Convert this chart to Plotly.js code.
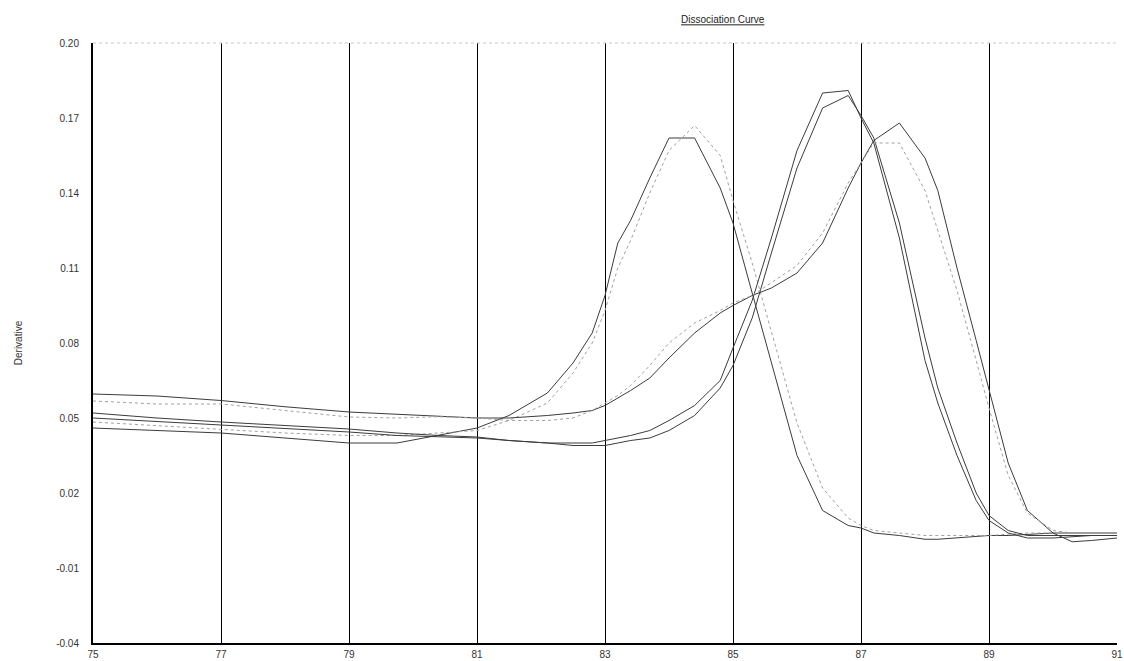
<!DOCTYPE html>
<html>
<head>
<meta charset="utf-8">
<script src="https://cdn.plot.ly/plotly-3.0.1.min.js"></script>
<style>
  html, body { margin: 0; padding: 0; background: #ffffff; }
  #chart { width: 1124px; height: 661px; }
</style>
</head>
<body>
<div id="chart"></div>
<script>
// Temperature (°C) sample points
const temps = [75, 76, 77, 78, 79, 79.75, 80.4, 81, 81.5, 82.1, 82.5, 82.8, 83.0, 83.2, 83.4, 83.7, 84.0, 84.4, 84.8, 85.0, 85.3, 85.6, 86.0, 86.4, 86.8, 87.0, 87.2, 87.6, 88.0, 88.2, 88.5, 88.8, 89.0, 89.3, 89.6, 90.0, 90.3, 90.6, 91.0];

// Derivative values per well
const wellA = [0.046, 0.045, 0.044, 0.042, 0.040, 0.040, 0.043, 0.046, 0.051, 0.060, 0.072, 0.084, 0.099, 0.120, 0.129, 0.146, 0.162, 0.162, 0.142, 0.128, 0.100, 0.072, 0.035, 0.013, 0.007, 0.006, 0.004, 0.003, 0.0015, 0.0015, 0.002, 0.0025, 0.003, 0.003, 0.0035, 0.004, 0.004, 0.004, 0.004];
const wellA2 = [0.0484, 0.047, 0.0455, 0.044, 0.043, 0.043, 0.044, 0.045, 0.049, 0.056, 0.068, 0.080, 0.093, 0.110, 0.121, 0.140, 0.157, 0.167, 0.155, 0.137, 0.112, 0.085, 0.048, 0.022, 0.010, 0.007, 0.005, 0.004, 0.003, 0.003, 0.003, 0.003, 0.003, 0.0035, 0.004, 0.004, 0.004, 0.004, 0.004];
const wellB = [0.052, 0.050, 0.0484, 0.047, 0.0456, 0.044, 0.043, 0.0424, 0.041, 0.040, 0.040, 0.040, 0.041, 0.042, 0.043, 0.045, 0.049, 0.055, 0.065, 0.078, 0.097, 0.122, 0.157, 0.180, 0.181, 0.170, 0.160, 0.122, 0.073, 0.056, 0.035, 0.017, 0.009, 0.004, 0.002, 0.002, 0.0025, 0.003, 0.003];
const wellB2 = [0.050, 0.0485, 0.047, 0.0458, 0.0444, 0.043, 0.0425, 0.042, 0.041, 0.040, 0.039, 0.039, 0.039, 0.040, 0.041, 0.042, 0.045, 0.051, 0.062, 0.071, 0.090, 0.116, 0.150, 0.174, 0.179, 0.171, 0.162, 0.128, 0.082, 0.062, 0.040, 0.020, 0.011, 0.005, 0.003, 0.003, 0.003, 0.003, 0.003];
const wellC = [0.0596, 0.0588, 0.057, 0.0545, 0.0524, 0.0515, 0.051, 0.050, 0.050, 0.051, 0.052, 0.053, 0.055, 0.058, 0.061, 0.066, 0.074, 0.084, 0.092, 0.095, 0.099, 0.102, 0.108, 0.120, 0.142, 0.152, 0.161, 0.168, 0.154, 0.141, 0.110, 0.081, 0.061, 0.032, 0.013, 0.004, 0.0005, 0.001, 0.002];
const wellC2 = [0.0568, 0.0556, 0.0556, 0.053, 0.0504, 0.050, 0.0505, 0.050, 0.049, 0.049, 0.050, 0.053, 0.056, 0.059, 0.063, 0.071, 0.080, 0.088, 0.093, 0.096, 0.099, 0.104, 0.111, 0.124, 0.144, 0.152, 0.160, 0.160, 0.141, 0.125, 0.101, 0.073, 0.054, 0.027, 0.012, 0.005, 0.004, 0.004, 0.004];

const xTicks = [75, 77, 79, 81, 83, 85, 87, 89, 91];
const yTicks = [-0.04, -0.01, 0.02, 0.05, 0.08, 0.11, 0.14, 0.17, 0.20];

const dark = {color: '#3c3c3c', width: 1};
const light = {color: '#a0a0a0', width: 1, dash: 'dot'};

const series = [
  {name: 'A', y: wellA, line: dark},
  {name: 'A2', y: wellA2, line: light},
  {name: 'B', y: wellB, line: dark},
  {name: 'B2', y: wellB2, line: dark},
  {name: 'C', y: wellC, line: dark},
  {name: 'C2', y: wellC2, line: light}
];

const traces = series.map(s => ({
  type: 'scatter', mode: 'lines', x: temps, y: s.y, name: s.name,
  line: s.line, hoverinfo: 'skip'
}));

const tickFont = {family: 'Liberation Sans, Arial, sans-serif', size: 10, color: '#333333'};

const layout = {
  width: 1124, height: 661,
  margin: {l: 93, r: 7, t: 43, b: 18, pad: 0},
  paper_bgcolor: '#ffffff', plot_bgcolor: '#ffffff',
  showlegend: false,
  title: {
    text: '<u>Dissociation Curve</u>',
    font: {family: 'Liberation Sans, Arial, sans-serif', size: 10, color: '#222222'},
    x: 0.643, xanchor: 'center', xref: 'container',
    y: 0.97, yanchor: 'middle', yref: 'container'
  },
  xaxis: {
    range: [75, 91], tickvals: xTicks, ticktext: xTicks.map(String),
    showgrid: true, gridcolor: '#000000', gridwidth: 1,
    zeroline: false, showline: true, linecolor: '#000000', linewidth: 2,
    ticks: '', tickfont: tickFont, ticklabelstandoff: 1
  },
  yaxis: {
    range: [-0.04, 0.20], tickvals: yTicks, ticktext: yTicks.map(v => v.toFixed(2)),
    showgrid: false, zeroline: false, showline: true, linecolor: '#000000', linewidth: 2,
    ticks: '', tickfont: tickFont, ticklabelstandoff: 10,
    title: {text: 'Derivative', font: {family: 'Liberation Sans, Arial, sans-serif', size: 10, color: '#333333'}, standoff: 32}
  },
  shapes: [
    {type: 'line', xref: 'paper', yref: 'paper', x0: 0, x1: 1, y0: 1, y1: 1,
     line: {color: '#c8c8c8', width: 1, dash: 'dot'}}
  ]
};

Plotly.newPlot('chart', traces, layout, {displayModeBar: false, staticPlot: true});
</script>
</body>
</html>
